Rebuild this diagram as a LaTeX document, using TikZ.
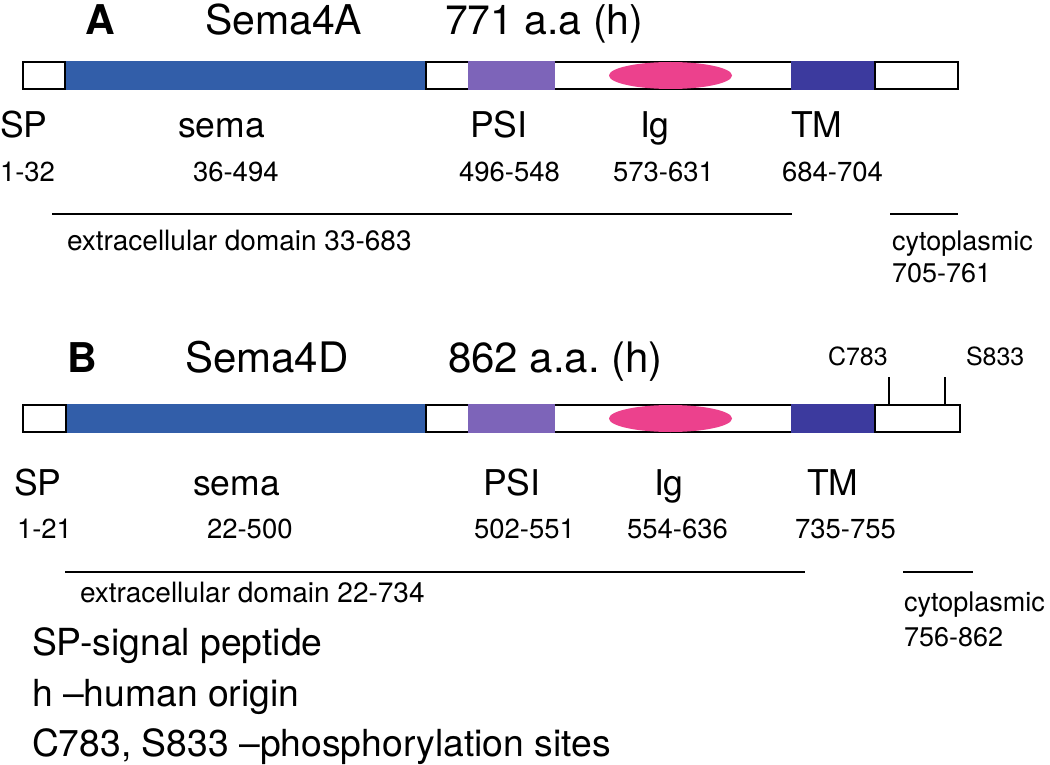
\documentclass[tikz,border=0pt]{standalone}
\usepackage{fontspec}
\setmainfont{TeX Gyre Heros}
\usetikzlibrary{shapes.geometric}
\definecolor{semablue}{RGB}{50,94,169}
\definecolor{psipurple}{RGB}{125,100,185}
\definecolor{igpink}{RGB}{236,65,141}
\definecolor{tmblue}{RGB}{60,58,158}
\frenchspacing
\tikzset{
  txt/.style={anchor=base west, inner sep=0pt, outer sep=0pt},
  ttl/.style={txt, font=\fontsize{41}{48}\selectfont},
  ttlb/.style={txt, font=\fontsize{41}{48}\selectfont\bfseries},
  dom/.style={txt, font=\fontsize{35.5}{42}\selectfont},
  num/.style={txt, font=\fontsize{27.5}{32}\selectfont},
  sml/.style={txt, font=\fontsize{27}{32}\selectfont},
  ext/.style={txt, font=\fontsize{28}{32}\selectfont},
  site/.style={txt, font=\fontsize{25}{30}\selectfont},
  leg/.style={txt, font=\fontsize{37.3}{43}\selectfont},
  seg/.style={rectangle, inner sep=0pt, outer sep=0pt, draw=none, minimum height=29.6pt},
  igdom/.style={ellipse, fill=igpink, draw=none, inner sep=0pt, minimum width=123pt, minimum height=27pt},
  outl/.style={line width=1.6pt, black},
  rng/.style={line width=2pt, black},
}
\begin{document}
\begin{tikzpicture}[x=1pt,y=-1pt]
\useasboundingbox (0,0) rectangle (1050,765);
\fill[white] (0,0) rectangle (1050,765);

% ================= A =================
\node[ttlb] (titA) at (85,35) {A};
\node[ttl] (nameA) at (205,35) {Sema4A};
\node[ttl] (lenA) at (445,35) {771 a.a (h)};

% coloured domains
\node[seg, fill=semablue, minimum width=361pt] (semaA) at (245.5,75.5) {};
\node[seg, fill=psipurple, minimum width=87pt] (psiA) at (511.5,75.5) {};
\node[seg, fill=tmblue, minimum width=84pt] (tmA) at (833,75.5) {};
% white segments
\draw[outl] (23,62) rectangle (65,89);
\draw[outl] (468,62) -- (426,62) -- (426,89) -- (468,89);
\draw[outl] (555,62) -- (791,62) (555,89) -- (791,89);
\draw[outl] (875,62) rectangle (958,89);
\node[igdom] (igA) at (670.5,75.5) {};

\node[dom] (spA) at (0,138) {SP};
\node[dom] (semalA) at (178,138) {sema};
\node[dom] (psilA) at (470,138) {PSI};
\node[dom] (iglA) at (640,138) {Ig};
\node[dom] (tmlA) at (791,138) {TM};

\node[num] (n1A) at (0,182) {1-32};
\node[num] (n2A) at (193,182) {36-494};
\node[num] (n3A) at (459,182) {496-548};
\node[num] (n4A) at (613,182) {573-631};
\node[num] (n5A) at (782,182) {684-704};

\coordinate (exA1) at (52,214);
\coordinate (exA2) at (792,214);
\coordinate (cyA1) at (890,214);
\coordinate (cyA2) at (958,214);
\draw[rng] (exA1) -- (exA2);
\draw[rng] (cyA1) -- (cyA2);
\node[ext] (exAl) at (67,250) {extracellular domain 33-683};
\node[sml] (cyAl) at (892,250) {cytoplasmic};
\node[sml] (cyAn) at (892,282) {705-761};

% ================= B =================
\node[ttlb] (titB) at (67,372) {B};
\node[ttl, font=\fontsize{42}{48}\selectfont] (nameB) at (185,372) {Sema4D};
\node[ttl, font=\fontsize{42}{48}\selectfont] (lenB) at (448,372) {862 a.a. (h)};

\node[seg, fill=semablue, minimum width=360pt] (semaB) at (246,418.5) {};
\node[seg, fill=psipurple, minimum width=87pt] (psiB) at (511.5,418.5) {};
\node[seg, fill=tmblue, minimum width=84pt] (tmB) at (833,418.5) {};
\draw[outl] (23,405) rectangle (66,432);
\draw[outl] (468,405) -- (426,405) -- (426,432) -- (468,432);
\draw[outl] (555,405) -- (791,405) (555,432) -- (791,432);
\draw[outl] (875,405) rectangle (960,432);
\node[igdom] (igB) at (670.5,418.5) {};

\coordinate (c783b) at (889,405);
\coordinate (c783t) at (889,377);
\coordinate (s833b) at (945,405);
\coordinate (s833t) at (945,377);
\draw[line width=1.4pt] (c783b) -- (c783t);
\draw[line width=1.4pt] (s833b) -- (s833t);
\node[site] (c783) at (828,365) {C783};
\node[site] (s833) at (966,365) {S833};

\node[dom] (spB) at (14,495) {SP};
\node[dom] (semalB) at (193,495) {sema};
\node[dom] (psilB) at (483,495) {PSI};
\node[dom] (iglB) at (654,495) {Ig};
\node[dom] (tmlB) at (807,495) {TM};

\node[num] (n1B) at (17,538) {1-21};
\node[num] (n2B) at (207,538) {22-500};
\node[num] (n3B) at (474,538) {502-551};
\node[num] (n4B) at (627,538) {554-636};
\node[num] (n5B) at (795,538) {735-755};

\coordinate (exB1) at (65,572);
\coordinate (exB2) at (805,572);
\coordinate (cyB1) at (903,572);
\coordinate (cyB2) at (973,572);
\draw[rng] (exB1) -- (exB2);
\draw[rng] (cyB1) -- (cyB2);
\node[ext] (exBl) at (80,602) {extracellular domain 22-734};
\node[sml] (cyBl) at (904,611) {cytoplasmic};
\node[sml] (cyBn) at (904,646) {756-862};

% ================= legend =================
\node[leg] (leg1) at (32,655) {SP-signal peptide};
\node[leg] (leg2) at (32,706) {h –human origin};
\node[leg] (leg3) at (32,756) {C783, S833 –phosphorylation sites};
\end{tikzpicture}
\end{document}
